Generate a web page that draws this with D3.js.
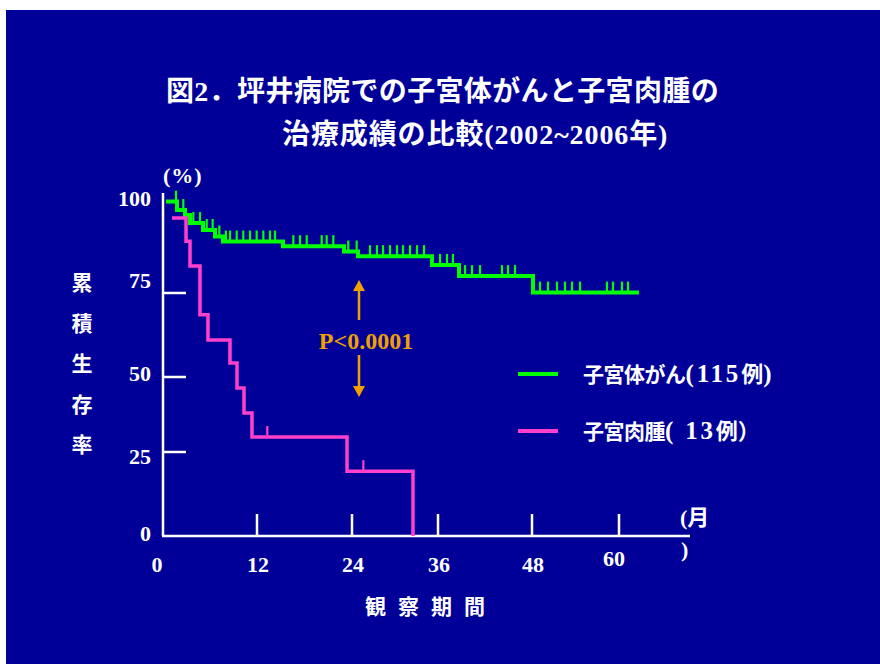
<!DOCTYPE html>
<html>
<head>
<meta charset="utf-8">
<script src="https://cdn.jsdelivr.net/npm/d3@7"></script>
<style>
  body { margin: 0; background: #ffffff; }
  text { font-family: "Liberation Serif", "Noto Sans CJK JP", serif; font-weight: bold; }
</style>
</head>
<body>
<script>
// chart values
const yTicks = [0, 25, 50, 75, 100];
const yTickMarks = [25, 50, 75];
const xTicks = [0, 12, 24, 36, 48, 60];
const xTickMarks = [12, 24, 36, 48, 60];

// corpus cancer (115)
const greenStart = [0.64, 98.8];
const greenTimes = [1.79, 2.81, 3.45, 5.11, 6.64, 7.66, 15.28, 22.99, 24.84, 35.16, 38.68, 48.14];
const greenSurv  = [96.6, 95.3, 93.2, 91.4, 89.7, 88.4, 87.2, 85.8, 84.6, 82.3, 79.4, 75.1];
const greenEnd = 62.48;
const greenCensor = [1.66, 2.59, 3.87, 4.72, 5.58, 6.34, 7.19, 8.04, 8.55, 9.41, 10.25, 11.11,
  11.96, 12.8, 13.64, 14.27, 16.59, 17.43, 18.28, 20.17, 20.8, 21.64, 23.53, 24.65, 26.51, 27.49,
  28.33, 29.3, 30.28, 31.12, 32.09, 33.07, 34.05, 36.26, 37.15, 37.91, 39.45, 40.34, 41.36, 44.17,
  44.94, 45.83, 49.1, 50.21, 51.45, 52.55, 53.52, 54.62, 58.34, 59.17, 60.41, 61.24];

// sarcoma (13)
const pinkStart = [1.15, 94.5];
const pinkTimes = [2.94, 3.45, 4.72, 5.74, 8.55, 9.45, 10.34, 11.36, 23.37, 32.51];
const pinkSurv  = [88.5, 82, 68.5, 61, 54.2, 46.3, 38, 30, 19.3, 0];
const pinkEnd = 32.51;
const pinkCensor = [13.3, 25.58];

const legendLabels = [["子宮体がん", "(115", "例", ")"], ["子宮肉腫", "( 13", "例）", ""]];
const titleLines = ["図2．坪井病院での子宮体がんと子宮肉腫の", "治療成績の比較(2002~2006年)"];
const yLabelChars = ["累", "積", "生", "存", "率"];

const GREEN = "#00ff00", PINK = "#ff40cc", ORANGE = "#f0a000";

const svg = d3.select("body").append("svg")
  .attr("width", 880).attr("height", 664);

svg.append("rect").attr("x", 6).attr("y", 10).attr("width", 874).attr("height", 654)
  .attr("fill", "#000099");

// the slide's axis is hand drawn, ticks are not evenly spaced
const x = d3.scaleLinear().domain([0, 12, 24, 36, 48, 60]).range([163, 257, 352, 438, 532, 619]);
const y = d3.scaleLinear().domain([0, 25, 50, 75, 100]).range([536, 452, 377, 293, 197]);
// tick numbers sit a little off their marks
const yLab = d3.scaleLinear().domain([0, 25, 50, 75, 100]).range([533, 456, 373, 280, 198]);

// title
svg.selectAll(".title").data(titleLines).enter().append("text")
  .attr("class", "title")
  .attr("x", (d, i) => i == 0 ? 166 : 282)
  .attr("y", (d, i) => i == 0 ? 101 : 144)
  .attr("fill", "#fff").attr("font-size", 28)
  .attr("letter-spacing", (d, i) => i == 0 ? 0.35 : 0.9)
  .text(d => d);

// axes
const axisG = svg.append("g").attr("stroke", "#fff").attr("stroke-width", 2.5);
axisG.append("line").attr("x1", x(0)).attr("x2", x(0)).attr("y1", 193).attr("y2", y(0));
axisG.append("line").attr("x1", x(0) - 1).attr("x2", 690).attr("y1", y(0)).attr("y2", y(0));

axisG.selectAll(".ytick").data(yTickMarks).enter().append("line")
  .attr("x1", x(0)).attr("x2", x(0) + 23)
  .attr("y1", d => y(d)).attr("y2", d => y(d));
axisG.selectAll(".xtick").data(xTickMarks).enter().append("line")
  .attr("x1", d => x(d)).attr("x2", d => x(d))
  .attr("y1", y(0)).attr("y2", y(0) - 22);

svg.selectAll(".ylab").data(yTicks).enter().append("text")
  .attr("x", 151).attr("y", d => yLab(d))
  .attr("dy", "0.35em").attr("text-anchor", "end")
  .attr("fill", "#fff").attr("font-size", 22)
  .text(d => d);

svg.selectAll(".xlab").data(xTicks).enter().append("text")
  .attr("x", d => d == 0 ? x(d) - 6 : d == 60 ? x(d) - 5 : x(d) + 1)
  .attr("y", d => d == 60 ? 558 : 564)
  .attr("dy", "0.35em").attr("text-anchor", "middle")
  .attr("fill", "#fff").attr("font-size", 22)
  .text(d => d);

svg.append("text").attr("x", 163).attr("y", 183).attr("fill", "#fff")
  .attr("font-size", 22).attr("letter-spacing", 1).text("(%)");
svg.append("text").attr("x", 680).attr("y", 525).attr("fill", "#fff")
  .attr("font-size", 22).text("(月");
svg.append("text").attr("x", 681).attr("y", 557).attr("fill", "#fff")
  .attr("font-size", 22).text(")");

svg.append("text").attr("x", 431).attr("y", 614).attr("text-anchor", "middle")
  .attr("fill", "#fff").attr("font-size", 21).attr("letter-spacing", 12)
  .text("観察期間");

svg.selectAll(".ych").data(yLabelChars).enter().append("text")
  .attr("x", 82).attr("y", (d, i) => 290 + i * 40.5)
  .attr("text-anchor", "middle")
  .attr("fill", "#fff").attr("font-size", 21)
  .text(d => d);

// step curves
function stepPoints(start, times, surv, end) {
  const pts = [start];
  let cur = start[1];
  times.forEach((t, i) => {
    pts.push([t, cur]);
    cur = surv[i];
    pts.push([t, cur]);
  });
  if (end > times[times.length - 1]) pts.push([end, cur]);
  return pts;
}
function survAt(start, times, surv, t) {
  let v = start[1];
  times.forEach((tt, i) => { if (t >= tt) v = surv[i]; });
  return v;
}

const line = d3.line().x(d => x(d[0])).y(d => y(d[1]));

svg.append("path")
  .attr("d", line(stepPoints(greenStart, greenTimes, greenSurv, greenEnd)))
  .attr("fill", "none").attr("stroke", GREEN).attr("stroke-width", 4)
  .attr("stroke-linejoin", "miter").attr("stroke-linecap", "square");

svg.selectAll(".gc").data(greenCensor).enter().append("line")
  .attr("x1", d => x(d)).attr("x2", d => x(d))
  .attr("y1", d => y(survAt(greenStart, greenTimes, greenSurv, d)))
  .attr("y2", d => y(survAt(greenStart, greenTimes, greenSurv, d)) - 11)
  .attr("stroke", GREEN).attr("stroke-width", 2.2);

svg.append("path")
  .attr("d", line(stepPoints(pinkStart, pinkTimes, pinkSurv, pinkEnd)))
  .attr("fill", "none").attr("stroke", PINK).attr("stroke-width", 3.5)
  .attr("stroke-linejoin", "miter");

svg.selectAll(".pc").data(pinkCensor).enter().append("line")
  .attr("x1", d => x(d)).attr("x2", d => x(d))
  .attr("y1", d => y(survAt(pinkStart, pinkTimes, pinkSurv, d)))
  .attr("y2", d => y(survAt(pinkStart, pinkTimes, pinkSurv, d)) - 11)
  .attr("stroke", PINK).attr("stroke-width", 2.2);

// p-value arrows
const arrowG = svg.append("g").attr("stroke", ORANGE).attr("fill", ORANGE);
arrowG.append("line").attr("x1", 359).attr("x2", 359).attr("y1", 288).attr("y2", 320).attr("stroke-width", 2.5);
arrowG.append("path").attr("d", "M353,291 L359,280 L365,291 Z").attr("stroke", "none");
arrowG.append("line").attr("x1", 359).attr("x2", 359).attr("y1", 355).attr("y2", 388).attr("stroke-width", 2.5);
arrowG.append("path").attr("d", "M353,386 L359,397 L365,386 Z").attr("stroke", "none");

svg.append("text").attr("x", 366).attr("y", 349).attr("text-anchor", "middle")
  .attr("fill", ORANGE).attr("font-size", 24).text("P<0.0001");

// legend
const legend = svg.selectAll(".leg").data(legendLabels).enter().append("g")
  .attr("transform", (d, i) => "translate(518," + (374 + i * 57) + ")");
legend.append("line").attr("x1", 0).attr("x2", 40)
  .attr("stroke", (d, i) => i == 0 ? GREEN : PINK).attr("stroke-width", 4);
const legText = legend.append("text").attr("x", 65).attr("y", 0).attr("dy", "0.36em")
  .attr("fill", "#fff").attr("font-size", 21);
legText.append("tspan").attr("letter-spacing", -0.5).text(d => d[0]);
legText.append("tspan").attr("font-size", 25).attr("letter-spacing", 2.8).text(d => d[1]);
legText.append("tspan").attr("font-size", 22).text(d => d[2]);
legText.append("tspan").attr("font-size", 25).text(d => d[3]);
</script>
</body>
</html>
